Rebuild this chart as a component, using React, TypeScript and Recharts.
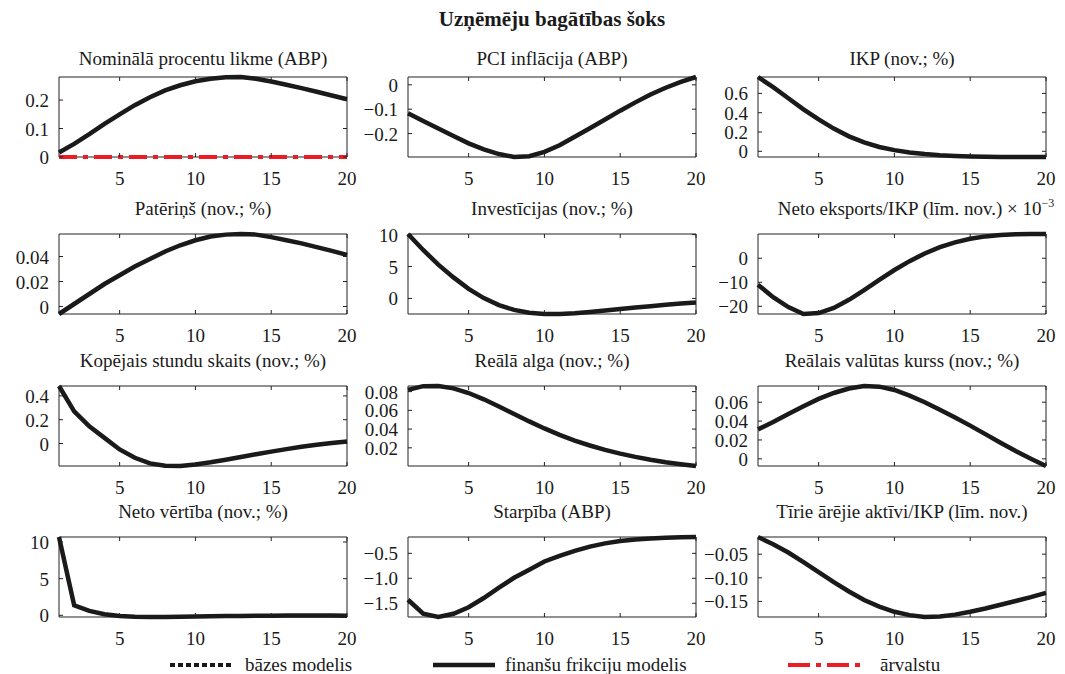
import React from 'react';
import { LineChart, Line, XAxis, YAxis, ReferenceArea } from 'recharts';

// horizon (quarters)
const periods = [1, 2, 3, 4, 5, 6, 7, 8, 9, 10, 11, 12, 13, 14, 15, 16, 17, 18, 19, 20];
const xTicks = [5, 10, 15, 20];

// impulse responses
const nominalRate = [0.016, 0.046, 0.08, 0.116, 0.15, 0.182, 0.21, 0.234, 0.252, 0.266, 0.275, 0.28, 0.281, 0.275, 0.265, 0.254, 0.242, 0.229, 0.216, 0.203];
const foreignRate = [0, 0, 0, 0, 0, 0, 0, 0, 0, 0, 0, 0, 0, 0, 0, 0, 0, 0, 0, 0];
const cpiInflation = [-0.117, -0.148, -0.179, -0.21, -0.24, -0.265, -0.284, -0.296, -0.293, -0.275, -0.248, -0.213, -0.178, -0.142, -0.106, -0.072, -0.04, -0.012, 0.012, 0.032];
const gdp = [0.77, 0.665, 0.55, 0.435, 0.33, 0.235, 0.155, 0.092, 0.045, 0.012, -0.012, -0.029, -0.041, -0.049, -0.054, -0.057, -0.058, -0.059, -0.059, -0.059];
const consumption = [-0.006, 0.002, 0.01, 0.018, 0.025, 0.032, 0.038, 0.044, 0.049, 0.053, 0.056, 0.0575, 0.058, 0.0575, 0.0555, 0.053, 0.0505, 0.0475, 0.0445, 0.0413];
const investment = [10.1, 7.6, 5.3, 3.3, 1.5, 0.05, -1.05, -1.8, -2.25, -2.43, -2.44, -2.33, -2.12, -1.88, -1.64, -1.42, -1.21, -1.0, -0.8, -0.62];
const netExports = [-11, -16.2, -20.3, -23.2, -22.8, -20.7, -17.3, -13.3, -9.0, -4.9, -1.2, 2.0, 4.6, 6.6, 8.1, 9.1, 9.7, 10.0, 10.1, 10.05];
const hoursWorked = [0.483, 0.27, 0.144, 0.047, -0.05, -0.12, -0.167, -0.187, -0.189, -0.177, -0.158, -0.136, -0.113, -0.09, -0.068, -0.047, -0.028, -0.011, 0.004, 0.017];
const realWage = [0.0818, 0.0858, 0.086, 0.0835, 0.0785, 0.0718, 0.0642, 0.0562, 0.0482, 0.0407, 0.0338, 0.0278, 0.0225, 0.0178, 0.0138, 0.0103, 0.0073, 0.0047, 0.0025, 0.0006];
const realExchangeRate = [0.0312, 0.039, 0.0475, 0.0557, 0.0635, 0.0698, 0.0745, 0.0772, 0.0765, 0.073, 0.067, 0.06, 0.052, 0.0437, 0.0352, 0.0262, 0.017, 0.0082, 0.0, -0.0076];
const netWorth = [10.68, 1.36, 0.6, 0.14, -0.09, -0.2, -0.23, -0.22, -0.19, -0.16, -0.13, -0.1, -0.08, -0.06, -0.05, -0.04, -0.04, -0.04, -0.04, -0.05];
const spread = [-1.43, -1.71, -1.775, -1.71, -1.58, -1.395, -1.186, -0.99, -0.827, -0.663, -0.55, -0.45, -0.365, -0.3, -0.255, -0.224, -0.203, -0.189, -0.18, -0.173];
const netForeignAssets = [-0.0136, -0.029, -0.0465, -0.067, -0.088, -0.109, -0.129, -0.147, -0.161, -0.172, -0.179, -0.183, -0.182, -0.178, -0.172, -0.165, -0.157, -0.149, -0.141, -0.132];

const mainTitle = 'Uzņēmēju bagātības šoks';
const panelTitles = [
  'Nominālā procentu likme (ABP)',
  'PCI inflācija (ABP)',
  'IKP (nov.; %)',
  'Patēriņš (nov.; %)',
  'Investīcijas (nov.; %)',
  'Neto eksports/IKP (līm. nov.) × 10',
  'Kopējais stundu skaits (nov.; %)',
  'Reālā alga (nov.; %)',
  'Reālais valūtas kurss (nov.; %)',
  'Neto vērtība (nov.; %)',
  'Starpība (ABP)',
  'Tīrie ārējie aktīvi/IKP (līm. nov.)',
];
const panelSeries = [
  nominalRate, cpiInflation, gdp,
  consumption, investment, netExports,
  hoursWorked, realWage, realExchangeRate,
  netWorth, spread, netForeignAssets,
];
const yTickValues = [
  [0, 0.1, 0.2],
  [-0.2, -0.1, 0],
  [0, 0.2, 0.4, 0.6],
  [0, 0.02, 0.04],
  [0, 5, 10],
  [-20, -10, 0],
  [0, 0.2, 0.4],
  [0.02, 0.04, 0.06, 0.08],
  [0, 0.02, 0.04, 0.06],
  [0, 5, 10],
  [-1.5, -1.0, -0.5],
  [-0.15, -0.1, -0.05],
];
const yTickLabels = [
  ['0', '0.1', '0.2'],
  ['−0.2', '−0.1', '0'],
  ['0', '0.2', '0.4', '0.6'],
  ['0', '0.02', '0.04'],
  ['0', '5', '10'],
  ['−20', '−10', '0'],
  ['0', '0.2', '0.4'],
  ['0.02', '0.04', '0.06', '0.08'],
  ['0', '0.02', '0.04', '0.06'],
  ['0', '5', '10'],
  ['−1.5', '−1.0', '−0.5'],
  ['−0.15', '−0.10', '−0.05'],
];

const legendNames = ['bāzes modelis', 'finanšu frikciju modelis', 'ārvalstu'];

// layout
const FONT = "'Liberation Serif', 'Times New Roman', serif";
const PLOT_LEFT = [59, 408, 758];
const PLOT_TOP = [77, 234, 386, 537];
const TITLE_Y = [65, 215, 367, 518];
const PLOT_W = 288;
const PLOT_H = 80;
const Y_AXIS_W = 58;
const M_TOP = 10;
const M_RIGHT = 10;
const X_AXIS_H = 35;
const TICK_LEN = 4;
const LINE_COLOR = '#1a1a1a';
const RED = '#ed1c24';

const XTick = (props: any) => {
  const { x, payload } = props;
  const bottom = M_TOP + PLOT_H;
  return (
    <g>
      <line x1={x} x2={x} y1={bottom} y2={bottom - TICK_LEN} stroke="#222" />
      <line x1={x} x2={x} y1={M_TOP} y2={M_TOP + TICK_LEN} stroke="#222" />
      <text x={x} y={bottom + 28} textAnchor="middle" fontSize={19} fontFamily={FONT} fill="#1a1a1a">
        {payload.value}
      </text>
    </g>
  );
};

const YTick = (props: any) => {
  const { y, payload, values, labels } = props;
  const idx = values.findIndex((v: number) => Math.abs(v - payload.value) < 1e-9);
  const right = Y_AXIS_W + PLOT_W;
  return (
    <g>
      <line x1={Y_AXIS_W} x2={Y_AXIS_W + TICK_LEN} y1={y} y2={y} stroke="#222" />
      <line x1={right} x2={right - TICK_LEN} y1={y} y2={y} stroke="#222" />
      <text x={Y_AXIS_W - 10} y={y + 7} textAnchor="end" fontSize={19} fontFamily={FONT} fill="#1a1a1a">
        {idx >= 0 ? labels[idx] : payload.value}
      </text>
    </g>
  );
};

const Panel = ({ index }: { index: number }) => {
  const col = index % 3;
  const row = Math.floor(index / 3);
  const series = panelSeries[index];
  const extra = index === 0 ? foreignRate : null;
  const data = periods.map((t, i) => ({ t, v: series[i], f: extra ? extra[i] : undefined }));
  const all = extra ? series.concat(extra) : series;
  const lo = Math.min(...all);
  const hi = Math.max(...all);

  return (
    <div style={{ position: 'absolute', left: PLOT_LEFT[col] - Y_AXIS_W, top: PLOT_TOP[row] - M_TOP }}>
      <LineChart
        width={Y_AXIS_W + PLOT_W + M_RIGHT}
        height={M_TOP + PLOT_H + X_AXIS_H}
        data={data}
        margin={{ top: M_TOP, right: M_RIGHT, left: 0, bottom: 0 }}
      >
        <XAxis
          dataKey="t"
          type="number"
          domain={[1, 20]}
          ticks={xTicks}
          interval={0}
          height={X_AXIS_H}
          axisLine={false}
          tickLine={false}
          tick={(p: any) => <XTick {...p} />}
        />
        <YAxis
          type="number"
          domain={[lo, hi]}
          ticks={yTickValues[index]}
          interval={0}
          width={Y_AXIS_W}
          axisLine={false}
          tickLine={false}
          tick={(p: any) => <YTick {...p} values={yTickValues[index]} labels={yTickLabels[index]} />}
        />
        <ReferenceArea x1={1} x2={20} y1={lo} y2={hi} fill="none" stroke="#222" strokeWidth={1} />
        <Line
          type="linear"
          dataKey="v"
          stroke={LINE_COLOR}
          strokeWidth={4.5}
          dot={false}
          isAnimationActive={false}
        />
        {extra && (
          <Line
            type="linear"
            dataKey="f"
            stroke={RED}
            strokeWidth={4}
            strokeDasharray="18 6 5 6"
            dot={false}
            isAnimationActive={false}
          />
        )}
      </LineChart>
    </div>
  );
};

const App = () => {
  return (
    <div style={{ position: 'absolute', left: 0, top: 0, width: 1065, height: 674, background: '#fff' }}>
      {panelSeries.map((_, i) => (
        <Panel key={i} index={i} />
      ))}
      <svg
        width={1065}
        height={674}
        style={{ position: 'absolute', left: 0, top: 0, pointerEvents: 'none' }}
        fontFamily={FONT}
      >
        <text x={552} y={26} textAnchor="middle" fontSize={21} fontWeight="bold" fill="#1a1a1a">
          {mainTitle}
        </text>
        {panelTitles.map((title, i) => {
          const col = i % 3;
          const row = Math.floor(i / 3);
          const cx = PLOT_LEFT[col] + PLOT_W / 2 + (i === 5 ? 14 : 0);
          return (
            <text key={i} x={cx} y={TITLE_Y[row]} textAnchor="middle" fontSize={19} fill="#1a1a1a">
              {title}
              {i === 5 && (
                <tspan fontSize={12} dy={-8}>
                  −3
                </tspan>
              )}
            </text>
          );
        })}
        {/* legend */}
        <line x1={170} x2={232} y1={665} y2={665} stroke={LINE_COLOR} strokeWidth={4} strokeDasharray="5 3" />
        <text x={245} y={671} fontSize={19} fill="#1a1a1a">{legendNames[0]}</text>
        <line x1={433} x2={495} y1={665} y2={665} stroke={LINE_COLOR} strokeWidth={4.5} />
        <text x={505} y={671} fontSize={19} fill="#1a1a1a">{legendNames[1]}</text>
        <line x1={788} x2={864} y1={665} y2={665} stroke={RED} strokeWidth={4} strokeDasharray="22 6 5 6" />
        <text x={880} y={671} fontSize={19} fill="#1a1a1a">{legendNames[2]}</text>
      </svg>
    </div>
  );
};

export default App;
